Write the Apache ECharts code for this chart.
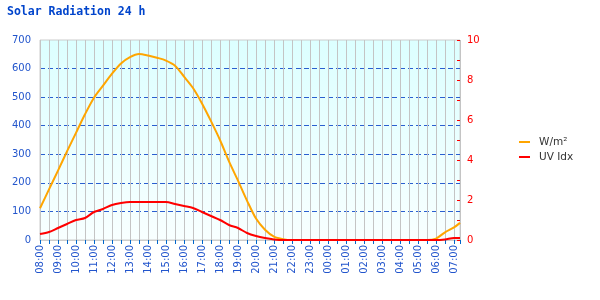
<!DOCTYPE html>
<html><head><meta charset="utf-8">
<script src="https://cdn.jsdelivr.net/npm/echarts@6/dist/echarts.min.js"></script>
<style>html,body{margin:0;padding:0;background:#fff}#c{width:600px;height:300px}</style>
</head><body><div id="c"></div>
<script>
const times = ['08:00','08:30','09:00','09:30','10:00','10:30','11:00','11:30','12:00','12:30','13:00','13:30','14:00','14:30','15:00','15:30','16:00','16:30','17:00','17:30','18:00','18:30','19:00','19:30','20:00','20:30','21:00','21:30','22:00','22:30','23:00','23:30','00:00','00:30','01:00','01:30','02:00','02:30','03:00','03:30','04:00','04:30','05:00','05:30','06:00','06:30','07:00','07:20'];
const solar = [111,177,243,310,375,440,498,540,582,618,640,651,646,638,628,610,572,532,478,416,350,275,208,138,75,36,12,3,0,0,0,0,0,0,0,0,0,0,0,0,0,0,0,0,5,27,44,60];
const uv = [0.3,0.4,0.6,0.8,1.0,1.1,1.4,1.55,1.75,1.85,1.9,1.9,1.9,1.9,1.9,1.8,1.7,1.6,1.4,1.2,1.0,0.75,0.6,0.35,0.2,0.1,0.03,0,0,0,0,0,0,0,0,0,0,0,0,0,0,0,0,0,0,0.03,0.1,0.1];
const leftTicks = [0,100,200,300,400,500,600,700];
const rightTicks = [0,2,4,6,8,10];

function toMin(t){ const [h,m]=t.split(':').map(Number); return (((h-8+24)%24)*60+m); }
const xs = times.map(toMin);
const blue = '#2255cc';
const dash = '#2a5fd0';
const chart = echarts.init(document.getElementById('c'), null, {renderer:'canvas'});
chart.setOption({
  animation:false,
  backgroundColor:'#ffffff',
  title:{text:'Solar Radiation 24 h', left:2, top:1,
    textStyle:{fontFamily:'DejaVu Sans Mono', fontWeight:'bold', fontSize:11.5, color:'#0044cc'}},
  legend:{orient:'vertical', left:514, top:131, icon:'rect', itemWidth:11, itemHeight:2, itemGap:3,
    textStyle:{fontFamily:'DejaVu Sans', fontSize:10.5, color:'#333', lineHeight:12, padding:[0,0,0,4]},
    data:['W/m²','UV Idx']},
  grid:{left:40, right:140, top:40, bottom:60, show:true, borderColor:'#cccccc', borderWidth:1,
    backgroundColor:new echarts.graphic.LinearGradient(0,0,0,1,[{offset:0,color:'#dcffff'},{offset:1,color:'#f8ffff'}])},
  xAxis:{type:'value', min:0, max:1400, interval:30,
    axisLine:{show:true, lineStyle:{color:'#cccccc'}},
    axisTick:{show:true, length:4, lineStyle:{color:'#0066cc'}},
    splitLine:{show:true, lineStyle:{color:'#c4c4c4', width:1}},
    axisLabel:{rotate:90, margin:5, color:blue, fontFamily:'DejaVu Sans', fontSize:10,
      formatter:function(v){ if(v%60!==0) return ''; const h=(8+v/60)%24; return (h<10?'0':'')+h+':00'; }}},
  yAxis:[
    {type:'value', min:leftTicks[0], max:leftTicks[leftTicks.length-1], interval:100,
      axisLine:{show:false}, axisTick:{show:false},
      splitLine:{show:true, lineStyle:{color:[dash,dash,dash,dash,dash,dash,dash,'rgba(0,0,0,0)'], type:[5,3], width:1}},
      axisLabel:{color:blue, fontFamily:'DejaVu Sans', fontSize:10, margin:9}},
    {type:'value', min:rightTicks[0], max:rightTicks[rightTicks.length-1], interval:2, position:'right',
      axisLine:{show:false},
      axisTick:{show:true, inside:true, length:3, lineStyle:{color:'#ff0000', width:1}},
      minorTick:{show:true, splitNumber:2, length:3, lineStyle:{color:'#ff0000', width:1}},
      splitLine:{show:false},
      axisLabel:{color:'#ff0000', fontFamily:'DejaVu Sans', fontSize:10, margin:7}}
  ],
  series:[
    {name:'W/m²', type:'line', yAxisIndex:0, showSymbol:false, smooth:0.3,
      lineStyle:{color:'#ffa500', width:2}, itemStyle:{color:'#ffa500'},
      data:xs.map((x,i)=>[x, solar[i]])},
    {name:'UV Idx', type:'line', yAxisIndex:1, showSymbol:false, smooth:0.3,
      lineStyle:{color:'#ff0000', width:2}, itemStyle:{color:'#ff0000'},
      data:xs.map((x,i)=>[x, uv[i]])}
  ]
});
</script></body></html>
